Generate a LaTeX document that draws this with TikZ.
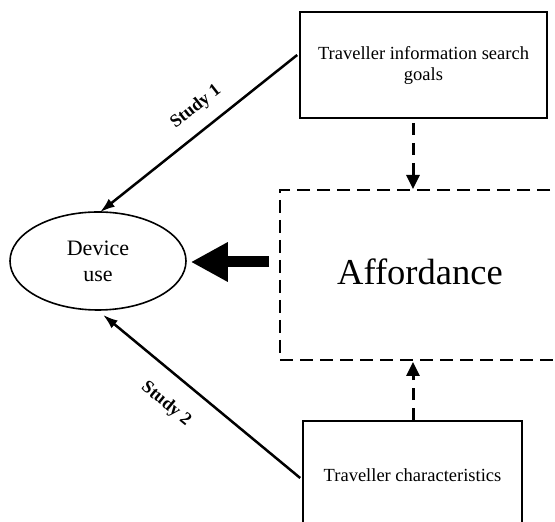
\documentclass[tikz,border=0pt]{standalone}
\usepackage{fontspec}
\setmainfont{Liberation Serif}
\usetikzlibrary{shapes.geometric,arrows.meta,calc}
\begin{document}
\begin{tikzpicture}[x=1pt,y=1pt,
  solidbox/.style={draw, line width=1.6pt, rectangle, inner sep=0pt, align=center,
    font=\fontsize{18.5}{21}\selectfont},
  dashbox/.style={draw, line width=2pt, rectangle, inner sep=0pt,
    dash pattern=on 13pt off 7pt, font=\fontsize{36.5}{40}\selectfont},
  studyarrow/.style={line width=2.5pt, -{Latex[length=15pt,width=10pt]}},
  dasharrow/.style={line width=3pt, dash pattern=on 12pt off 8pt,
    -{Triangle[length=14pt,width=13pt]}},
  biglabel/.style={font=\bfseries\fontsize{18}{20}\selectfont, inner sep=1pt}
]
\useasboundingbox (0,0) rectangle (555,522);
\clip (0,0) rectangle (555,522);
\fill[white] (0,0) rectangle (555,522);

\node[solidbox, minimum width=247pt, minimum height=106pt] (tb) at (423.5,457)
  {Traveller information search\\goals};
\node[dashbox, minimum width=280pt, minimum height=170pt] (aff) at (420,247) {};
\node[font=\fontsize{36.5}{40}\selectfont] (afftext) at (420,250) {Affordance};
\node[solidbox, minimum width=219pt, minimum height=108pt] (bb) at (412.5,47)
  {Traveller characteristics};
\node[draw, ellipse, line width=1.6pt, minimum width=176pt, minimum height=98pt,
  inner sep=0pt, align=center, font=\fontsize{22}{26}\selectfont] (el) at (98,261)
  {Device\\use};

\coordinate (s1start) at ($(tb.west)+(-2,10)$);
\coordinate (s1end) at ($(el.north)+(2,-1)$);
\draw[studyarrow] (s1start) -- (s1end);
\coordinate (s2start) at ($(bb.west)+(-2,-3)$);
\coordinate (s2end) at ($(el.south)+(5,-4)$);
\draw[studyarrow] (s2start) -- (s2end);

\node[biglabel, rotate=38] (l1) at (196,415) {Study 1};
\node[biglabel, rotate=-39.5] (l2) at (166,118) {Study 2};

\coordinate (bigstart) at ($(aff.west)+(-10,13)$);
\coordinate (bigend) at ($(el.east)+(4,-1)$);
\draw[line width=11pt, -{Triangle[length=37pt,width=37pt]}] (bigstart) -- (bigend);

\coordinate (d1start) at ($(tb.south)+(-10.5,-4)$);
\coordinate (d1end) at ($(aff.north)+(-7,0)$);
\draw[dasharrow] (d1start) -- (d1end);
\coordinate (d2start) at ($(bb.north)+(0.5,0)$);
\coordinate (d2end) at ($(aff.south)+(-7,-1)$);
\draw[dasharrow] (d2start) -- (d2end);
\end{tikzpicture}
\end{document}
